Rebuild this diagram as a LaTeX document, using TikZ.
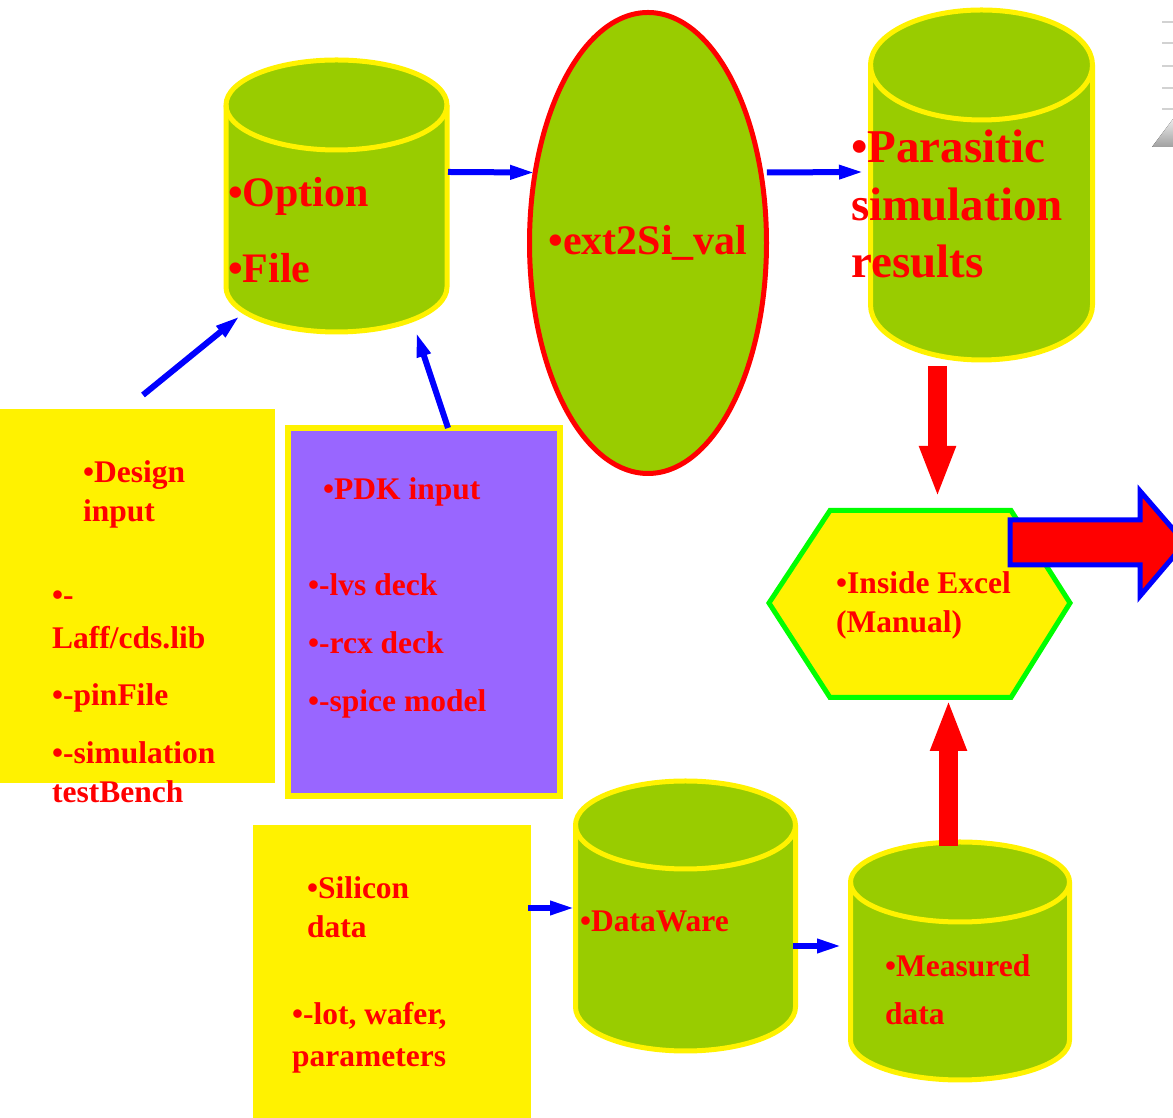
\documentclass[tikz,border=0pt]{standalone}
\usepackage{fontspec}
\setmainfont{Liberation Serif}
\usetikzlibrary{arrows.meta,shapes.geometric}
\definecolor{dbgreen}{HTML}{99CC00}
\definecolor{pdkpurple}{HTML}{9966FF}
\definecolor{hexgreen}{HTML}{00FF00}
\tikzset{
  db/.style={fill=dbgreen, draw=yellow, line width=5pt},
  lbl/.style={text=red, inner sep=0pt, anchor=base west, align=left,
    font=\fontsize{31.5}{39}\selectfont\bfseries},
  biglbl/.style={lbl, font=\fontsize{42}{57.5}\selectfont\bfseries},
  flow/.style={draw=blue, line width=6pt, -{Triangle[length=25pt,width=13pt]}},
  feed/.style={draw=red, line width=19pt, -{Triangle[length=52pt,width=33pt]}}
}
\begin{document}
\begin{tikzpicture}[x=1pt, y=1pt]
    \useasboundingbox (0,0) rectangle (1173,1118);

    % 1. Các hình trụ
    \filldraw[db] (226,1013) -- (226,831)
        arc[start angle=180, end angle=360, x radius=110.5, y radius=45]
        -- (447,1013) arc[start angle=0, end angle=180, x radius=110.5, y radius=45] -- cycle;
    \draw[db, fill=none] (226,1013) arc[start angle=180, end angle=360, x radius=110.5, y radius=45];

    \filldraw[db] (870.5,1053) -- (870.5,813)
        arc[start angle=180, end angle=360, x radius=111, y radius=55]
        -- (1092.5,1053) arc[start angle=0, end angle=180, x radius=111, y radius=55] -- cycle;
    \draw[db, fill=none] (870.5,1053) arc[start angle=180, end angle=360, x radius=111, y radius=55];

    \filldraw[db] (575.5,293) -- (575.5,111)
        arc[start angle=180, end angle=360, x radius=110, y radius=44]
        -- (795.5,293) arc[start angle=0, end angle=180, x radius=110, y radius=44] -- cycle;
    \draw[db, fill=none] (575.5,293) arc[start angle=180, end angle=360, x radius=110, y radius=44];

    \filldraw[db] (850.5,236) -- (850.5,78)
        arc[start angle=180, end angle=360, x radius=109.5, y radius=40]
        -- (1069.5,236) arc[start angle=0, end angle=180, x radius=109.5, y radius=40] -- cycle;
    \draw[db, fill=none] (850.5,236) arc[start angle=180, end angle=360, x radius=109.5, y radius=40];

    % 2. Elip và các hộp
    \node[ellipse, fill=dbgreen, draw=red, line width=5pt, inner sep=0pt, outer sep=0pt,
        minimum width=237, minimum height=461] (ext) at (648,875) {};
    \node[text=red, inner sep=0pt, font=\fontsize{42}{57.5}\selectfont\bfseries]
        (extl) at (ext.center) {\textbullet ext2Si\_val};
    \node[fill=yellow, minimum width=275, minimum height=374, inner sep=0pt, outer sep=0pt,
        anchor=north west] (des) at (0,709) {};
    \node[fill=pdkpurple, draw=yellow, line width=6pt, minimum width=272, minimum height=368,
        inner sep=0pt, outer sep=0pt, anchor=north west] (pdk) at (288,690) {};
    \node[fill=yellow, minimum width=278, minimum height=293, inner sep=0pt, outer sep=0pt,
        anchor=north west] (sil) at (253,293) {};

    % 3. Lục giác và mũi tên lớn
    \filldraw[fill=yellow, draw=hexgreen, line width=5pt]
        (769,515) -- (830,607.5) -- (1011,607.5) -- (1070,515) -- (1011,420.5) -- (830,420.5) -- cycle;
    \filldraw[fill=red, draw=blue, line width=5pt]
        (1010,598) -- (1140,598) -- (1140,627) -- (1185,575) -- (1140,522) -- (1140,553) -- (1010,553) -- cycle;
    \fill[top color=gray!15, bottom color=gray!75] (1152,971) -- (1173,999) -- (1173,971) -- cycle;
    \draw[gray!35, line width=2pt] (1162,1096) -- (1173,1096) (1162,1075) -- (1173,1075)
        (1162,1052) -- (1173,1052) (1162,1030) -- (1173,1030) (1162,1009) -- (1173,1009);

    % 4. Chữ
    \node[biglbl] (opt) at (228,835) {\textbullet Option\\[19pt]\textbullet File};
    \node[biglbl, font=\fontsize{47}{57.5}\selectfont\bfseries] (par) at (851,840)
        {\textbullet Parasitic\\simulation\\results};
    \node[lbl] (desh) at (83,596) {\textbullet Design\\input};
    \node[lbl] (desl) at (52,315) {\textbullet -\\[4pt]Laff/cds.lib\\[18pt]\textbullet -pinFile\\[19pt]\textbullet -simulation\\testBench};
    \node[lbl] (pdkh) at (323,618) {\textbullet PDK input};
    \node[lbl] (pdkl) at (308,406) {\textbullet -lvs deck\\[19pt]\textbullet -rcx deck\\[19pt]\textbullet -spice model};
    \node[lbl] (silh) at (307,180) {\textbullet Silicon\\data};
    \node[lbl] (sill) at (292,51) {\textbullet -lot, wafer,\\[3pt]parameters};
    \node[lbl] (hex) at (836,485) {\textbullet Inside Excel\\(Manual)};
    \node[lbl] (dw) at (580,186) {\textbullet DataWare};
    \node[lbl] (md) at (885,93) {\textbullet Measured\\[9pt]data};

    % 5. Các mũi tên
    \coordinate (opt-e) at (448,946);
    \coordinate (opt-sw) at (240,802);
    \coordinate (opt-s) at (416,786);
    \coordinate (des-n) at (143,723);
    \coordinate (par-w) at (864,946);
    \coordinate (par-s) at (937.5,752);
    \coordinate (hex-n) at (937.5,620);
    \coordinate (hex-s) at (948.5,419);
    \coordinate (md-n) at (948.5,272);
    \coordinate (sil-e) at (528,210);
    \coordinate (dw-w) at (575,210);
    \coordinate (dw-e) at (793,172);
    \coordinate (md-w) at (842,172);

    \draw[flow] (opt-e) -- (ext.148);
    \draw[flow] ([xshift=6pt]ext.32) -- (par-w);
    \draw[flow] (des-n) -- (opt-sw);
    \draw[flow] ([xshift=24pt]pdk.north) -- (opt-s);
    \draw[flow] (sil-e) -- (dw-w);
    \draw[flow] (dw-e) -- (md-w);
    \draw[feed] (par-s) -- (hex-n);
    \draw[feed] (md-n) -- (hex-s);
\end{tikzpicture}
\end{document}
